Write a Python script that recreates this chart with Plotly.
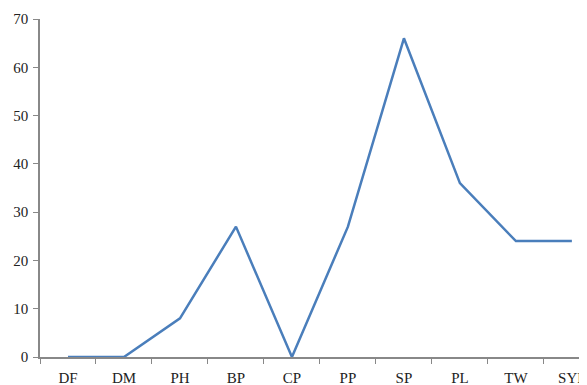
import plotly.graph_objects as go

categories = ["DF", "DM", "PH", "BP", "CP", "PP", "SP", "PL", "TW", "SYP"]
values = [0, 0, 8, 27, 0, 27, 66, 36, 24, 24]
y_ticks = [0, 10, 20, 30, 40, 50, 60, 70]

fig = go.Figure(go.Scatter(
    x=categories, y=values, mode="lines",
    line=dict(color="#4a7ebb", width=2.5),
))

font = dict(family="Liberation Serif, Times New Roman, serif", size=15, color="#222222")
fig.update_layout(
    width=579, height=377,
    margin=dict(l=32, r=0, t=11, b=28),
    paper_bgcolor="white", plot_bgcolor="white",
    showlegend=False, font=font,
)
fig.update_xaxes(
    type="category", range=[-0.5, 9.27],
    showline=True, linecolor="#888888", linewidth=1.5,
    ticks="outside", tickson="boundaries", ticklen=5, tickcolor="#888888",
    showgrid=False, zeroline=False, ticklabelstandoff=6,
)
fig.update_yaxes(
    range=[0, 70], tickvals=y_ticks,
    showline=True, linecolor="#888888", linewidth=1.5,
    ticks="outside", ticklen=5, tickcolor="#888888",
    showgrid=False, zeroline=False, ticklabelstandoff=2,
)
fig.write_html("out.html")
